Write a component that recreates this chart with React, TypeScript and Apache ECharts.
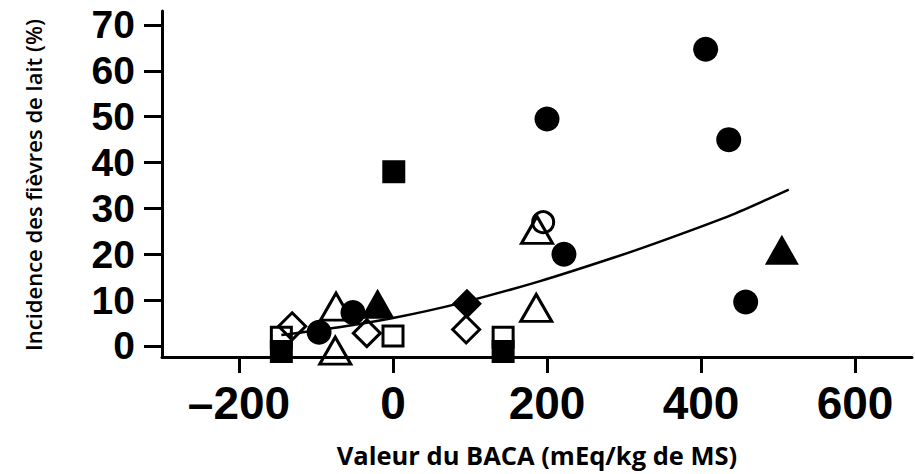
import React, { useEffect, useRef } from "react";
import * as echarts from "echarts";

const xTicks = [-200, 0, 200, 400, 600];
const yTicks = [0, 10, 20, 30, 40, 50, 60, 70];

const filledCircles = [[-96, 3], [-52, 7.3], [200, 49.5], [222, 20], [406, 64.7], [436, 45], [458, 9.6]];
const openCircles = [[195, 27]];
const openSquares = [[-145, 1.9], [0, 2.2], [143, 1.9]];
const filledSquares = [[-145, -1.2], [1, 38], [143, -1.2]];
const openTriangles = [[-74, 8.6], [-75, -1], [186, 8.3], [187, 25.3]];
const filledTriangles = [[-20, 9.2], [505, 21]];
const openDiamonds = [[-131, 4.3], [-34, 2.8], [95, 3.6]];
const filledDiamonds = [[96, 9.2]];
const fitCurve = [[-145, 2.4], [-70, 4.1], [0, 6.1], [86, 9.3], [190, 14.1], [289, 19.4], [354, 23.2], [440, 28.6], [514, 34.1]];

const INK = "#000";

function openSeries(data: number[][], symbol: string, size: any) {
  return {
    type: "scatter",
    data,
    symbol,
    symbolSize: size,
    clip: false,
    itemStyle: { color: "rgba(255,255,255,0)", borderColor: INK, borderWidth: 3, opacity: 1 },
    z: 3,
  };
}
function filledSeries(data: number[][], symbol: string, size: any) {
  return {
    type: "scatter",
    data,
    symbol,
    symbolSize: size,
    clip: false,
    itemStyle: { color: INK, borderWidth: 0, opacity: 1 },
    z: 4,
  };
}

export default function App() {
  const ref = useRef<HTMLDivElement>(null);
  useEffect(() => {
    if (!ref.current) return;
    const chart = echarts.init(ref.current, null, { renderer: "svg" });
    chart.setOption({
      animation: false,
      backgroundColor: "#fff",
      grid: { left: 162, right: 3, top: 11, bottom: 117, containLabel: false, outerBoundsMode: "none" },
      xAxis: {
        type: "value",
        min: -300,
        max: 674,
        name: "Valeur du BACA (mEq/kg de MS)",
        nameLocation: "middle",
        nameGap: 86,
        nameTextStyle: { fontFamily: "Open Sans", fontWeight: "bold", fontSize: 25.5, lineHeight: 24, color: INK },
        axisLine: { show: true, onZero: false, lineStyle: { color: INK, width: 3 } },
        axisTick: { show: true, length: 16, customValues: xTicks, lineStyle: { color: INK, width: 3 } },
        axisLabel: {
          customValues: xTicks,
          margin: 23,
          fontFamily: "Liberation Sans",
          fontWeight: "bold",
          fontSize: 46,
          color: INK,
          formatter: (v: number) => (v < 0 ? "\u2013" + Math.abs(v) : String(v)),
        },
        splitLine: { show: false },
      },
      yAxis: {
        type: "value",
        min: -2.4,
        max: 73.05,
        axisLine: { show: true, onZero: false, lineStyle: { color: INK, width: 3 } },
        axisTick: { show: true, length: 18, customValues: yTicks, lineStyle: { color: INK, width: 3 } },
        axisLabel: {
          customValues: yTicks,
          margin: 27,
          fontFamily: "Liberation Sans",
          fontWeight: "bold",
          fontSize: 39,
          color: INK,
        },
        splitLine: { show: false },
      },
      graphic: [
        {
          type: "text",
          x: 33,
          y: 185,
          rotation: Math.PI / 2,
          style: {
            text: "Incidence des fièvres de lait (%)",
            fontFamily: "Open Sans",
            fontWeight: 600,
            fontSize: 22,
            fill: INK,
            align: "center",
            verticalAlign: "middle",
          },
        },
      ],
      series: [
        openSeries(openSquares, "rect", 20),
        openSeries(openDiamonds, "diamond", 27),
        openSeries(openTriangles, "triangle", [31, 27]),
        openSeries(openCircles, "circle", 21),
        filledSeries(filledSquares, "rect", 23),
        filledSeries(filledCircles, "circle", 25),
        filledSeries(filledTriangles, "triangle", [34, 30]),
        filledSeries(filledDiamonds, "diamond", 30),
        {
          type: "line",
          data: fitCurve,
          smooth: 0.25,
          showSymbol: false,
          symbol: "none",
          clip: false,
          lineStyle: { color: INK, width: 2.5 },
          z: 5,
        },
      ],
    });
    return () => chart.dispose();
  }, []);
  return <div ref={ref} style={{ width: 915, height: 474, position: "absolute", left: 0, top: 0 }} />;
}
